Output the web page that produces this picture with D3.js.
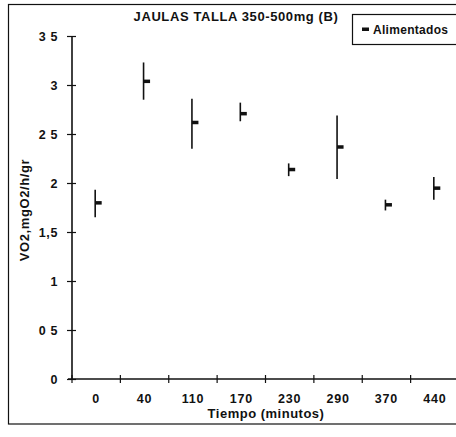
<!DOCTYPE html>
<html>
<head>
<meta charset="utf-8">
<script src="https://cdn.jsdelivr.net/npm/d3@7"></script>
<style>
  body { margin: 0; background: #fff; }
  svg { display: block; }
  text { font-family: "Liberation Sans", Arial, sans-serif; fill: #111; }
</style>
</head>
<body>
<div id="chart"></div>
<script>
'use strict';

// tiempo (minutos)
var categories = ['0', '40', '110', '170', '230', '290', '370', '440']
// VO2 medio y barras de error
var means = [1.80, 3.04, 2.62, 2.71, 2.14, 2.37, 1.78, 1.95]
var upper = [1.93, 3.23, 2.86, 2.82, 2.20, 2.69, 1.83, 2.06]
var lower = [1.65, 2.85, 2.35, 2.63, 2.07, 2.04, 1.72, 1.83]
var yTicks = [0, 0.5, 1, 1.5, 2, 2.5, 3, 3.5]
var yTickLabels = ['0', '0 5', '1', '1,5', '2', '2 5', '3', '3 5']

var width = 456
var height = 437
var svg = d3.select('#chart').append('svg').attr('width', width).attr('height', height)

// marco exterior del grafico (sale por la derecha)
svg.append('rect').attr('x', 8.5).attr('y', 4.5).attr('width', 460).attr('height', 419.5)
    .style('fill', 'none').style('stroke', '#111').style('stroke-width', 1.2)

var x = d3.scaleBand().domain(categories).range([72, 459])
var y = d3.scaleLinear().domain([0, 3.5]).range([379, 36])

// eje y
var yAxis = d3.axisLeft(y).tickValues(yTicks).tickSize(5).tickPadding(9)
    .tickFormat(function(d, i) { return yTickLabels[i] })
var gy = svg.append('g').attr('transform', 'translate(72,0)').call(yAxis)
gy.select('.domain').remove()
gy.selectAll('.tick line').attr('x1', -5).attr('x2', 4).style('stroke', '#111').style('stroke-width', 1.2)
gy.selectAll('.tick text').style('font-size', '12.5px').style('font-weight', 'bold').style('letter-spacing', '0.6px')
svg.append('line').attr('x1', 72).attr('x2', 72).attr('y1', y(3.5)).attr('y2', y(0))
    .style('stroke', '#111').style('stroke-width', 1.6)

// eje x
var xAxis = d3.axisBottom(x).tickSize(0).tickPadding(15)
var gx = svg.append('g').attr('transform', 'translate(0,' + y(0) + ')').call(xAxis)
gx.select('.domain').remove()
gx.selectAll('.tick text').style('font-size', '12.5px').style('font-weight', 'bold').style('letter-spacing', '0.8px')
svg.append('line').attr('x1', 68).attr('x2', 460).attr('y1', y(0)).attr('y2', y(0))
    .style('stroke', '#111').style('stroke-width', 1.6)
svg.selectAll('.xb').data(categories).enter().append('line').attr('class', 'xb')
    .attr('x1', function(d) { return x(d) }).attr('x2', function(d) { return x(d) })
    .attr('y1', y(0) - 4).attr('y2', y(0) + 4)
    .style('stroke', '#111').style('stroke-width', 1.2)

// barras de error
var pts = categories.map(function(c, i) {
    return { cat: c, mean: means[i], hi: upper[i], lo: lower[i] }
})
svg.selectAll('.err').data(pts).enter().append('line').attr('class', 'err')
    .attr('x1', function(d) { return x(d.cat) + x.bandwidth() / 2 - 1 })
    .attr('x2', function(d) { return x(d.cat) + x.bandwidth() / 2 - 1 })
    .attr('y1', function(d) { return y(d.hi) })
    .attr('y2', function(d) { return y(d.lo) })
    .style('stroke', '#111').style('stroke-width', 1.6)

// marcador (guion)
svg.selectAll('.mk').data(pts).enter().append('rect').attr('class', 'mk')
    .attr('x', function(d) { return x(d.cat) + x.bandwidth() / 2 - 1 })
    .attr('y', function(d) { return y(d.mean) - 1.5 })
    .attr('width', 6.5).attr('height', 3.5)
    .style('fill', '#111')

// titulos
svg.append('text').attr('x', 236).attr('y', 21).attr('text-anchor', 'middle')
    .style('font-size', '13px').style('font-weight', 'bold').style('letter-spacing', '0.6px')
    .text('JAULAS TALLA 350-500mg (B)')
svg.append('text').attr('x', 266).attr('y', 418).attr('text-anchor', 'middle')
    .style('font-size', '13px').style('font-weight', 'bold').style('letter-spacing', '0.5px')
    .text('Tiempo (minutos)')
svg.append('text').attr('transform', 'translate(29,210) rotate(-90)').attr('text-anchor', 'middle')
    .style('font-size', '13px').style('font-weight', 'bold').style('letter-spacing', '0.6px')
    .text('VO2,mgO2/h/gr')

// leyenda
var lg = svg.append('g')
lg.append('rect').attr('x', 352.5).attr('y', 14.5).attr('width', 110).attr('height', 30)
    .style('fill', '#fff').style('stroke', '#111').style('stroke-width', 1.2)
lg.append('rect').attr('x', 362).attr('y', 27.5).attr('width', 7).attr('height', 3.5).style('fill', '#111')
lg.append('text').attr('x', 373).attr('y', 33.5).style('font-size', '12px').style('font-weight', 'bold')
    .style('letter-spacing', '0.3px')
    .text('Alimentados')
</script>
</body>
</html>
